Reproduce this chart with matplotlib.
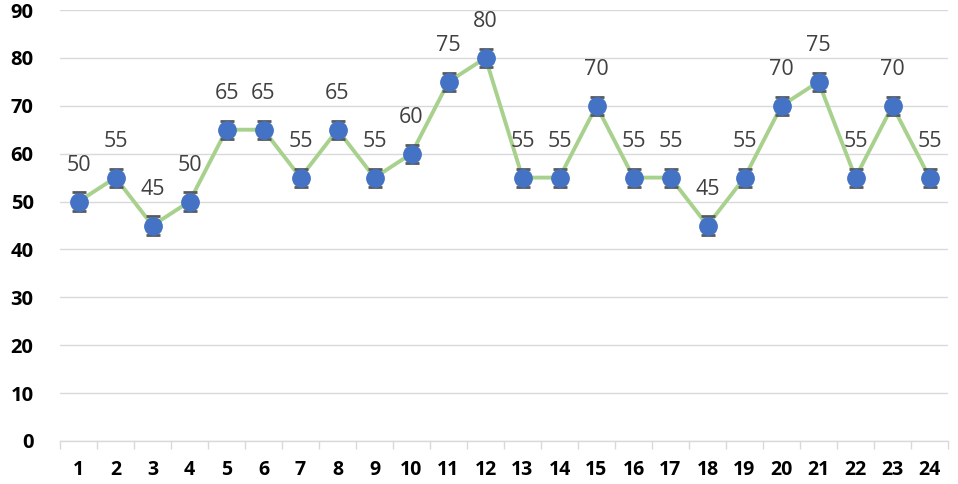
import matplotlib
matplotlib.use("Agg")
import matplotlib.pyplot as plt
from matplotlib.ticker import FixedLocator

categories = list(range(1, 25))
values = [50, 55, 45, 50, 65, 65, 55, 65, 55, 60, 75, 80, 55, 55, 70, 55, 55, 45, 55, 70, 75, 55, 70, 55]
errors = [1.9] * 24
y_ticks = [0, 10, 20, 30, 40, 50, 60, 70, 80, 90]

plt.rcParams['font.family'] = ['Open Sans', 'DejaVu Sans']

fig = plt.figure(figsize=(9.58, 4.84), dpi=100)
ax = fig.add_axes([60/958, 43/484, 888/958, 431/484])

ax.plot(categories, values, color='#a9d18e', lw=2.8, zorder=2)
ax.errorbar(categories, values, yerr=errors, fmt='none', ecolor='#595959',
            elinewidth=1.2, capsize=5, capthick=2, zorder=3)
ax.plot(categories, values, 'o', color='#4472c4', markersize=12.5, zorder=4)

for x, v in zip(categories, values):
    ax.annotate(str(v), (x, v), xytext=(0, 26), textcoords='offset points',
                ha='center', va='center', fontsize=15.5, color='#404040')

ax.set_xlim(0.5, 24.5)
ax.set_ylim(0, 90)
ax.set_yticks(y_ticks)
ax.set_xticks(categories)
ax.xaxis.set_minor_locator(FixedLocator([i + 0.5 for i in range(0, 25)]))
ax.tick_params(axis='x', which='major', length=0, pad=14, labelsize=14)
ax.tick_params(axis='x', which='minor', length=6, color='#d9d9d9', width=1)
ax.tick_params(axis='y', length=0, pad=19, labelsize=14.5)
for lab in ax.get_xticklabels() + ax.get_yticklabels():
    lab.set_fontweight('bold')
    lab.set_color('#000000')

ax.grid(axis='y', color='#d9d9d9', lw=1)
ax.set_axisbelow(True)
for s in ['top', 'right', 'left']:
    ax.spines[s].set_visible(False)
ax.spines['bottom'].set_color('#d9d9d9')
ax.spines['bottom'].set_linewidth(1)

fig.savefig('out.png', dpi=100)
